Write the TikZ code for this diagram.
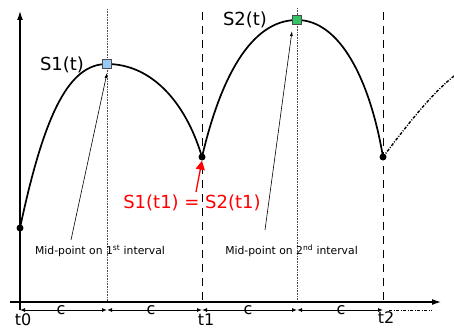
\documentclass[tikz,border=0pt]{standalone}
\usepackage{fontspec}
\setmainfont{DejaVu Sans}
\usetikzlibrary{arrows.meta}
\definecolor{sqblue}{HTML}{99C9F5}
\definecolor{sqgreen}{HTML}{33C466}
\begin{document}
\begin{tikzpicture}[x=1pt,y=-1pt,
  axis/.style={line width=1.2pt,-{Latex[length=9pt,width=6pt]}},
  curve/.style={line width=1.7pt,line join=round},
  guidedot/.style={line width=0.6pt,densely dotted,black!70},
  guidedash/.style={line width=0.9pt,dash pattern=on 8pt off 6pt},
  dim/.style={line width=0.9pt,{Latex[length=5pt,width=4pt]}-{Latex[length=5pt,width=4pt]}},
  note/.style={line width=0.6pt,-{Latex[length=5pt,width=3pt]}},
  dot/.style={circle,fill=black,inner sep=0pt,minimum size=7pt},
  sq/.style={draw=black!70,line width=0.5pt,minimum size=9pt,inner sep=0pt},
  big/.style={font=\fontsize{18}{20}\selectfont,inner sep=0pt},
  tlab/.style={font=\fontsize{16}{18}\selectfont,inner sep=0pt},
  small/.style={font=\fontsize{10.8}{12}\selectfont,inner sep=0pt}
]
\useasboundingbox (0,0) rectangle (454,329);
% guides
\draw[guidedot] (107,9) -- (107,302);
\draw[guidedot] (297,8) -- (297,302);
\draw[guidedash] (202,12) -- (202,302);
\draw[guidedash] (383,12) -- (383,302);
% axes
\draw[axis] (10,302) -- (441,302);
\draw[axis] (20,310) -- (20,11);
% dimension line
\coordinate (d0) at (20,310);
\coordinate (d1) at (107,310);
\coordinate (d2) at (202,310);
\coordinate (d3) at (297,310);
\coordinate (d4) at (383,310);
\coordinate (d5) at (432,310);
\draw[dim] (d0) -- (d1);
\draw[dim] (d1) -- (d2);
\draw[dim] (d2) -- (d3);
\draw[dim] (d3) -- (d4);
\draw[line width=0.9pt,dash pattern=on 3pt off 1.5pt on 1pt off 1.5pt] ([xshift=6pt]d4) -- (d5);
\node[tlab] (c1) at (61,310) {c};
\node[tlab] (c2) at (151,310) {c};
\node[tlab] (c3) at (248,310) {c};
\node[tlab] (c4) at (341,310) {c};
\node[tlab] (t0) at (23,320) {t0};
\node[tlab] (t1) at (206,320) {t1};
\node[tlab] (t2) at (386,318) {t2};
% points
\coordinate (q0) at (20,228);
\coordinate (q1) at (202,157);
\coordinate (q2) at (383,157);
\coordinate (k1) at (107,64);
\coordinate (k2) at (297,20);
% curves
\draw[curve] (q0) .. controls (45,110) and (70,64) .. (k1)
                  .. controls (150,64) and (185,100) .. (q1)
                  .. controls (220,80) and (250,20) .. (k2)
                  .. controls (340,20) and (370,80) .. (q2);
\draw[line width=1.4pt,dash pattern=on 3pt off 1.5pt on 1pt off 1.5pt] (q2) .. controls (405,128) and (430,95) .. (454,76);
\node[dot] (p0) at (q0) {};
\node[dot] (p1) at (q1) {};
\node[dot] (p2) at (q2) {};
\node[sq,fill=sqblue] (m1) at (k1) {};
\node[sq,fill=sqgreen] (m2) at (k2) {};
% labels
\node[big] (s1) at (62,65) {S1(t)};
\node[big] (s2) at (245,20) {S2(t)};
\node[big,text=red] (eq) at (192,203) {S1(t1) = S2(t1)};
\coordinate (r0) at (196,192);
\draw[red,line width=1.3pt,-{Triangle[length=9pt,width=9pt]}] (r0) -- (p1.south);
\node[small] (l1) at (100,251) {Mid-point on 1\textsuperscript{st} interval};
\node[small] (l2) at (291.5,251) {Mid-point on 2\textsuperscript{nd} interval};
\coordinate (a1) at (71,240);
\coordinate (a1e) at (107,73);
\coordinate (a2) at (265,230);
\coordinate (a2e) at (292,31);
\draw[note] (a1) -- (a1e);
\draw[note] (a2) -- (a2e);
\end{tikzpicture}
\end{document}
